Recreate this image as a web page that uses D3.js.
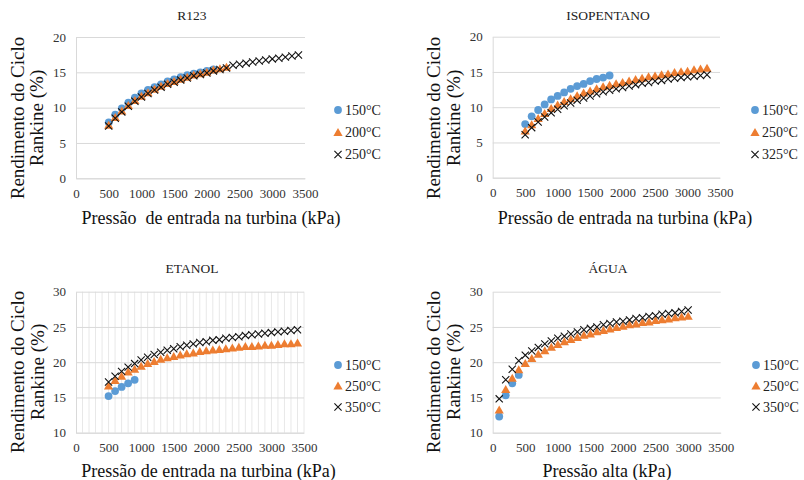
<!DOCTYPE html>
<html>
<head>
<meta charset="utf-8">
<script src="https://cdn.jsdelivr.net/npm/d3@7"></script>
<style>
  body { margin: 0; background: #fff; }
</style>
</head>
<body>
<svg id="chart" width="804" height="480"></svg>
<script>
// pressure steps (kPa)
const pressures = [500, 600, 700, 800, 900, 1000, 1100, 1200, 1300, 1400, 1500, 1600, 1700, 1800, 1900,
  2000, 2100, 2200, 2300, 2400, 2500, 2600, 2700, 2800, 2900, 3000, 3100, 3200, 3300, 3400];
const pressuresAgua = [100, 200, 300, 400, 500, 600, 700, 800, 900, 1000, 1100, 1200, 1300, 1400, 1500,
  1600, 1700, 1800, 1900, 2000, 2100, 2200, 2300, 2400, 2500, 2600, 2700, 2800, 2900, 3000];

const xTicks = [0, 500, 1000, 1500, 2000, 2500, 3000, 3500];
const yTicksLow = [0, 5, 10, 15, 20];
const yTicksHigh = [10, 15, 20, 25, 30];

// R123
const r123Labels = ["150°C", "200°C", "250°C"];
const r123_150 = [7.9, 9.0, 9.9, 10.7, 11.4, 12.0, 12.5, 12.9, 13.3, 13.7, 14.0, 14.3, 14.6, 14.8, 15.0, 15.2, 15.4];
const r123_200 = [7.5, 8.6, 9.5, 10.3, 11.0, 11.6, 12.1, 12.6, 13.0, 13.4, 13.7, 14.0, 14.3, 14.6, 14.8, 15.0, 15.3, 15.5, 15.7];
const r123_250 = [7.4, 8.5, 9.4, 10.2, 10.9, 11.5, 12.0, 12.5, 12.9, 13.3, 13.6, 13.9, 14.2, 14.5, 14.7, 14.9, 15.2, 15.4, 15.6,
  16.0, 16.15, 16.3, 16.45, 16.6, 16.75, 16.9, 17.0, 17.15, 17.3, 17.45];

// Isopentano
const isoLabels = ["150°C", "250°C", "325°C"];
const iso_150 = [7.6, 8.7, 9.6, 10.4, 11.1, 11.6, 12.1, 12.6, 13.0, 13.3, 13.7, 14.0, 14.2, 14.5];
const iso_250 = [6.6, 7.5, 8.4, 9.1, 9.8, 10.3, 10.8, 11.2, 11.6, 12.0, 12.3, 12.6, 12.9, 13.1, 13.3, 13.5, 13.7, 13.9,
  14.1, 14.3, 14.4, 14.6, 14.7, 14.9, 15.0, 15.1, 15.3, 15.4, 15.5];
const iso_325 = [6.1, 7.1, 7.9, 8.6, 9.2, 9.7, 10.2, 10.6, 11.0, 11.3, 11.6, 11.9, 12.2, 12.4, 12.6, 12.8, 13.0, 13.2,
  13.4, 13.5, 13.7, 13.8, 14.0, 14.1, 14.2, 14.3, 14.4, 14.5, 14.6];

// Etanol
const etaLabels = ["150°C", "250°C", "350°C"];
const eta_150 = [15.2, 15.9, 16.5, 17.0, 17.5];
const eta_250 = [16.6, 17.4, 18.0, 18.6, 19.0, 19.4, 19.8, 20.1, 20.4, 20.6, 20.8, 21.0, 21.2, 21.3, 21.5, 21.6, 21.7,
  21.8, 21.9, 22.0, 22.1, 22.2, 22.2, 22.3, 22.4, 22.4, 22.5, 22.6, 22.6, 22.7];
const eta_350 = [17.2, 18.0, 18.7, 19.3, 19.8, 20.3, 20.7, 21.1, 21.4, 21.7, 21.9, 22.2, 22.4, 22.6, 22.8, 22.9, 23.1,
  23.2, 23.4, 23.5, 23.6, 23.8, 23.9, 24.0, 24.1, 24.2, 24.3, 24.4, 24.5, 24.6];

// Agua
const aguaLabels = ["150°C", "250°C", "350°C"];
const agua_150 = [12.3, 15.3, 17.0, 18.2];
const agua_250 = [13.2, 16.1, 17.7, 18.9, 19.8, 20.5, 21.1, 21.6, 22.1, 22.5, 22.9, 23.2, 23.5, 23.8, 24.0, 24.3, 24.5,
  24.7, 24.9, 25.1, 25.3, 25.4, 25.6, 25.7, 25.9, 26.0, 26.1, 26.3, 26.4, 26.5];
const agua_350 = [14.8, 17.5, 19.0, 20.2, 21.0, 21.6, 22.1, 22.6, 23.0, 23.4, 23.7, 24.0, 24.3, 24.6, 24.8, 25.0, 25.3,
  25.5, 25.7, 25.8, 26.0, 26.2, 26.3, 26.5, 26.6, 26.8, 26.9, 27.0, 27.2, 27.4];

const blue = "#5B9BD5", orange = "#ED7D31";
const serif = "'Liberation Serif', 'Times New Roman', Times, 'DejaVu Serif', serif";
const svg = d3.select("#chart").style("font-family", serif);
svg.append("rect").attr("width", 804).attr("height", 480).attr("fill", "#fff");

function drawMarker(g, kind) {
  if (kind === 0) {
    g.append("circle").attr("r", 3.9).attr("fill", blue);
  } else if (kind === 1) {
    g.append("path").attr("d", "M0,-4.6L4.6,3.4L-4.6,3.4Z").attr("fill", orange);
  } else {
    g.append("path").attr("d", "M-3.6,-3.6L3.6,3.6M-3.6,3.6L3.6,-3.6")
      .attr("stroke", "#111").attr("stroke-width", 1.1).attr("fill", "none");
  }
}

function drawPanel(cfg) {
  const g = svg.append("g");
  const x = d3.scaleLinear().domain([0, 3500]).range([cfg.left, cfg.right]);
  const y = d3.scaleLinear().domain(cfg.yDomain).range([cfg.bottom, cfg.top]);

  // minor vertical grid (etanol only)
  if (cfg.minorGrid) {
    g.append("g").selectAll("line")
      .data(d3.range(100, 3600, 100))
      .enter().append("line")
      .attr("x1", d => x(d)).attr("x2", d => x(d))
      .attr("y1", cfg.top).attr("y2", cfg.bottom)
      .attr("stroke", "#e8e8e8").attr("stroke-width", 1);
  }

  // y axis with gridlines
  const yAxis = g.append("g")
    .attr("transform", `translate(${cfg.left},0)`)
    .call(d3.axisLeft(y).tickValues(cfg.yTicks).tickFormat(d3.format("d"))
      .tickSizeInner(-(cfg.right - cfg.left)).tickSizeOuter(0).tickPadding(10));
  yAxis.attr("font-family", null);
  yAxis.select(".domain").attr("stroke", "#d9d9d9");
  yAxis.selectAll(".tick line").attr("stroke", "#d9d9d9");
  yAxis.selectAll(".tick text").attr("font-size", 13).attr("fill", "#333");

  // x axis
  const xAxis = g.append("g")
    .attr("transform", `translate(0,${cfg.bottom})`)
    .call(d3.axisBottom(x).tickValues(xTicks).tickFormat(d3.format("d")).tickSize(0).tickPadding(10));
  xAxis.attr("font-family", null);
  xAxis.select(".domain").attr("stroke", "#d9d9d9");
  xAxis.selectAll(".tick text").attr("font-size", 13).attr("fill", "#333");

  // series, drawn in order so the × sits on top
  cfg.series.forEach((vals, i) => {
    const px = cfg.pressures;
    g.append("g").selectAll("g")
      .data(vals)
      .enter().append("g")
      .attr("transform", (d, j) => `translate(${x(px[j])},${y(d)})`)
      .each(function () { drawMarker(d3.select(this), i); });
  });

  // titles
  g.append("text").attr("x", cfg.titleX).attr("y", cfg.titleY)
    .attr("text-anchor", "middle").attr("font-size", 13.5).attr("fill", "#222").text(cfg.title);

  ["Rendimento do Ciclo", "Rankine (%)"].forEach((t, i) => {
    g.append("text")
      .attr("transform", `translate(${cfg.yTitleX[i]},${cfg.yTitleCy}) rotate(-90)`)
      .attr("text-anchor", "middle").attr("dominant-baseline", "central")
      .attr("font-size", 19).attr("fill", "#111").text(t);
  });

  g.append("text").attr("x", cfg.xTitleX).attr("y", cfg.xTitleY)
    .attr("text-anchor", "middle").attr("font-size", 18).attr("fill", "#111")
    .style("white-space", "pre").text(cfg.xTitle);

  // legend
  cfg.labels.forEach((lab, i) => {
    const lg = g.append("g").attr("transform", `translate(${cfg.legendX},${cfg.legendY[i]})`);
    drawMarker(lg, i);
    lg.append("text").attr("x", 7).attr("dominant-baseline", "central")
      .attr("font-size", 14).attr("fill", "#222").text(lab);
  });
}

drawPanel({
  title: "R123", titleX: 192, titleY: 20,
  left: 76, right: 305, top: 37, bottom: 178.3,
  yDomain: [0, 20], yTicks: yTicksLow, pressures: pressures,
  series: [r123_150, r123_200, r123_250], labels: r123Labels,
  yTitleX: [17, 36], yTitleCy: 118,
  xTitle: "Pressão  de entrada na turbina (kPa)", xTitleX: 211, xTitleY: 224,
  legendX: 338, legendY: [110, 132.5, 154.5]
});

drawPanel({
  title: "ISOPENTANO", titleX: 608, titleY: 20,
  left: 492.7, right: 720, top: 36.7, bottom: 177.7,
  yDomain: [0, 20], yTicks: yTicksLow, pressures: pressures,
  series: [iso_150, iso_250, iso_325], labels: isoLabels,
  yTitleX: [433, 453], yTitleCy: 118,
  xTitle: "Pressão de entrada na turbina (kPa)", xTitleX: 625, xTitleY: 224,
  legendX: 755, legendY: [110, 132.5, 154.5]
});

drawPanel({
  title: "ETANOL", titleX: 192, titleY: 273,
  left: 76, right: 304, top: 291.7, bottom: 432.7, minorGrid: true,
  yDomain: [10, 30], yTicks: yTicksHigh, pressures: pressures,
  series: [eta_150, eta_250, eta_350], labels: etaLabels,
  yTitleX: [17, 37], yTitleCy: 372,
  xTitle: "Pressão de entrada na turbina (kPa)", xTitleX: 208.5, xTitleY: 477,
  legendX: 338, legendY: [365, 386, 407]
});

drawPanel({
  title: "ÁGUA", titleX: 608, titleY: 273,
  left: 492.7, right: 720.7, top: 291.7, bottom: 432.7,
  yDomain: [10, 30], yTicks: yTicksHigh, pressures: pressuresAgua,
  series: [agua_150, agua_250, agua_350], labels: aguaLabels,
  yTitleX: [433, 453], yTitleCy: 372,
  xTitle: "Pressão alta (kPa)", xTitleX: 607, xTitleY: 477,
  legendX: 756, legendY: [365, 386, 407]
});
</script>
</body>
</html>
